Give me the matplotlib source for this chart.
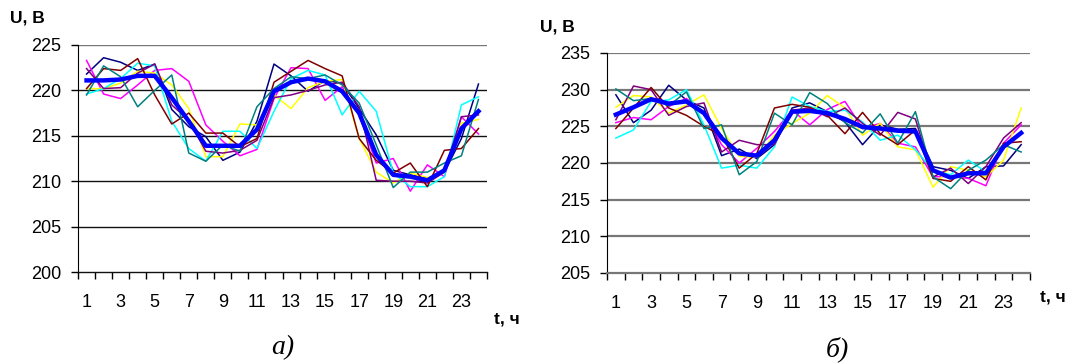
import matplotlib.pyplot as plt
import numpy as np

# часы суток
hours = np.arange(1, 25)

# а) напряжение, В
a_navy = [221.8, 223.6, 223.1, 222.2, 222.9, 217.9, 216.0, 214.9, 212.3, 213.2, 216.6, 222.9,
          221.6, 219.9, 221.1, 220.8, 218.0, 215.1, 211.2, 210.7, 210.3, 211.0, 214.7, 220.7]
a_magenta = [223.3, 219.6, 219.1, 220.6, 222.2, 222.4, 221.0, 216.2, 214.4, 212.8, 213.5, 219.1,
             222.5, 222.4, 218.9, 220.4, 217.3, 212.0, 212.5, 208.9, 211.8, 210.5, 217.1, 215.2]
a_yellow = [220.2, 220.2, 220.8, 222.1, 221.9, 220.6, 218.0, 212.7, 212.7, 216.3, 216.2, 219.5,
            218.0, 220.3, 221.0, 221.2, 214.7, 211.0, 209.8, 210.9, 210.4, 210.9, 216.4, 216.8]
a_cyan = [219.6, 220.2, 221.3, 223.0, 222.7, 216.6, 213.6, 212.2, 215.5, 215.5, 213.6, 217.7,
          221.3, 222.2, 221.7, 217.3, 219.9, 217.7, 210.9, 209.4, 209.4, 210.5, 218.4, 219.3]
a_purple = [222.4, 220.2, 220.3, 221.9, 222.9, 218.4, 216.7, 213.3, 213.1, 213.4, 214.5, 219.2,
            219.5, 220.0, 220.6, 220.9, 218.2, 210.1, 210.0, 210.0, 209.8, 211.0, 217.1, 217.3]
a_darkred = [220.2, 222.4, 222.2, 223.5, 219.5, 216.3, 217.5, 215.3, 215.3, 213.8, 214.7, 220.9,
             222.1, 223.3, 222.4, 221.6, 214.7, 212.3, 210.9, 212.0, 209.4, 213.4, 213.6, 215.8]
a_teal = [219.5, 222.7, 221.5, 218.2, 220.0, 221.7, 213.1, 212.2, 214.0, 213.3, 218.2, 220.2,
          221.5, 221.3, 221.7, 220.6, 218.6, 214.0, 209.3, 211.0, 211.0, 212.0, 212.8, 219.0]
a_mean = [221.1, 221.1, 221.2, 221.6, 221.6, 219.2, 216.6, 213.9, 213.9, 213.9, 215.7, 219.9,
          220.9, 221.3, 221.0, 219.9, 217.5, 212.9, 210.7, 210.5, 210.1, 211.2, 215.8, 217.7]

# б) напряжение, В
b_navy = [229.3, 225.5, 227.2, 230.6, 228.6, 227.5, 221.0, 221.9, 220.6, 222.5, 227.5, 228.2,
          227.0, 225.6, 222.5, 225.2, 224.6, 224.7, 219.5, 219.0, 217.9, 219.5, 219.6, 222.5]
b_magenta = [225.5, 226.2, 225.9, 227.7, 228.8, 226.8, 222.5, 220.0, 222.0, 224.3, 227.2, 225.2,
             227.3, 228.4, 224.7, 225.4, 222.7, 222.2, 218.1, 218.2, 217.9, 216.9, 222.7, 225.2]
b_yellow = [227.6, 229.2, 229.0, 226.8, 227.9, 229.3, 224.7, 220.9, 220.8, 223.8, 225.4, 226.8,
            229.2, 227.5, 223.8, 225.4, 222.2, 221.8, 216.7, 219.5, 219.0, 218.1, 220.4, 227.5]
b_cyan = [223.4, 224.5, 228.4, 228.6, 230.0, 225.2, 219.3, 219.7, 219.3, 222.2, 229.0, 227.7,
          227.0, 227.2, 225.6, 223.1, 223.8, 221.8, 219.0, 218.4, 220.4, 218.8, 222.2, 224.0]
b_purple = [225.9, 230.5, 230.0, 226.5, 227.7, 228.2, 221.5, 223.1, 222.5, 222.5, 227.2, 227.5,
            226.3, 227.5, 225.4, 223.8, 226.9, 226.0, 218.1, 219.3, 217.2, 219.5, 223.4, 225.5]
b_darkred = [224.7, 227.5, 230.3, 227.5, 226.5, 225.0, 223.8, 219.3, 221.3, 227.5, 228.0, 227.6,
             226.5, 224.0, 226.9, 224.0, 222.5, 224.5, 217.9, 217.5, 219.5, 217.7, 222.7, 222.9]
b_teal = [230.1, 228.5, 228.8, 227.8, 229.7, 224.7, 225.2, 218.4, 220.2, 226.8, 225.2, 229.6,
          228.1, 225.5, 224.1, 226.7, 222.7, 227.0, 218.1, 216.5, 219.0, 220.4, 222.5, 221.5]
b_mean = [226.6, 227.6, 228.7, 228.1, 228.4, 226.8, 223.4, 221.3, 221.0, 223.1, 227.0, 227.1,
          226.8, 226.0, 224.9, 224.7, 224.4, 224.3, 219.0, 218.0, 218.6, 218.6, 222.2, 224.1]

thin_colors = ['#000080', '#FF00FF', '#FFFF00', '#00FFFF', '#800080', '#800000', '#008080']

plt.rcParams['font.family'] = ['Liberation Sans', 'DejaVu Sans']

fig = plt.figure(figsize=(10.75, 3.64), dpi=100)
ax1 = fig.add_axes([0.0726, 0.2527, 0.3804, 0.6237])
ax2 = fig.add_axes([0.5647, 0.25, 0.3934, 0.6044])


def draw(ax, series, mean, ylim, grid_color, grid_lw, top_color):
    for vals, c in zip(series, thin_colors):
        ax.plot(hours, vals, color=c, lw=1.1, zorder=3)
    ax.plot(hours, mean, color='#0000FF', lw=3.2, zorder=4)
    ax.set_xlim(0.5, 24.5)
    ax.set_ylim(*ylim)
    yt = np.arange(ylim[0], ylim[1] + 1, 5)
    ax.set_yticks(yt)
    for v in yt[1:]:
        ax.axhline(v, color=top_color if v == yt[-1] else grid_color, lw=grid_lw, zorder=1)
    # деления на границах часов, подписи через один
    ax.set_xticks(np.arange(0.5, 25, 1))
    ax.set_xticklabels([])
    ax.set_xticks(np.arange(1, 25, 2), minor=True)
    ax.set_xticklabels([str(h) for h in range(1, 25, 2)], minor=True, fontsize=13)
    ax.tick_params(axis='x', which='major', length=5, direction='out', width=1)
    ax.tick_params(axis='x', which='minor', length=0, pad=16)
    ax.tick_params(axis='y', length=5, width=1, pad=7, labelsize=13)
    for s in ['top', 'right']:
        ax.spines[s].set_visible(False)
    ax.spines['left'].set_color('black')
    ax.spines['bottom'].set_color(grid_color)
    ax.spines['bottom'].set_linewidth(grid_lw)


draw(ax1, [a_navy, a_magenta, a_yellow, a_cyan, a_purple, a_darkred, a_teal], a_mean,
     (200, 225), '#111111', 1.0, '#777777')
draw(ax2, [b_navy, b_magenta, b_yellow, b_cyan, b_purple, b_darkred, b_teal], b_mean,
     (205, 235), '#777777', 1.6, '#777777')

fig.text(0.009, 0.95, 'U, В', fontsize=12.5, fontweight='bold', va='center')
fig.text(0.502, 0.925, 'U, В', fontsize=12.5, fontweight='bold', va='center')
fig.text(0.460, 0.123, 't, ч', fontsize=12.5, fontweight='bold', va='center')
fig.text(0.967, 0.184, 't, ч', fontsize=12.5, fontweight='bold', va='center')
fig.text(0.263, 0.045, 'а)', fontsize=20, style='italic', family='Liberation Serif',
         ha='center', va='center')
fig.text(0.779, 0.04, 'б)', fontsize=20, style='italic', family='Liberation Serif',
         ha='center', va='center')

plt.savefig('out.png', dpi=100)
